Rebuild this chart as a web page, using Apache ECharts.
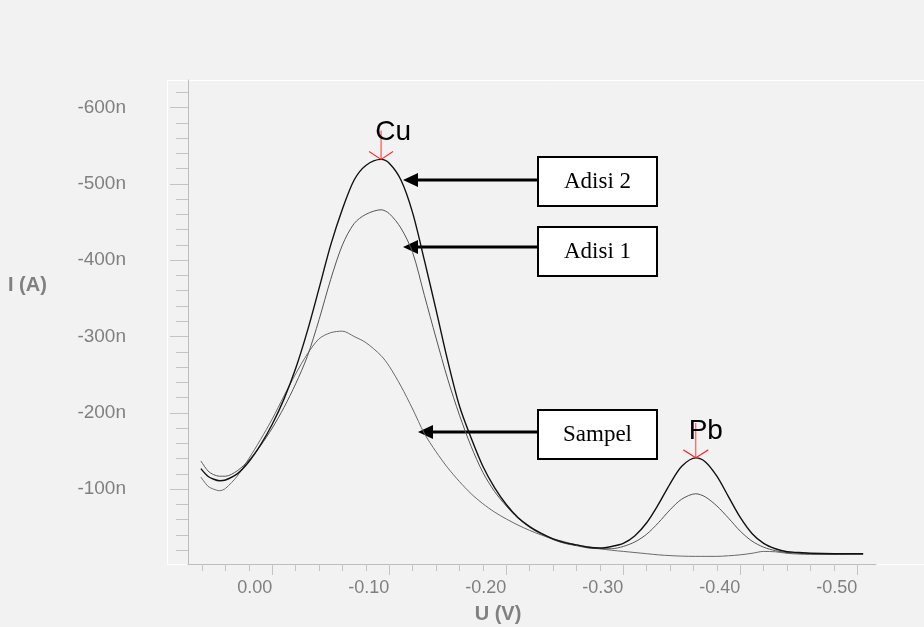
<!DOCTYPE html>
<html>
<head>
    <meta charset="utf-8" />
    <title>Voltammogram Cu Pb</title>
    <style>
        html, body { margin: 0; padding: 0; background: #f2f2f2; }
        #main { width: 924px; height: 627px; }
    </style>
    <script src="https://cdn.jsdelivr.net/npm/echarts@6/dist/echarts.min.js"></script>
</head>
<body>
<div id="main"></div>
<script type="text/javascript">
    // potential (V), shared by all three scans
    const voltage = [0.061, 0.055, 0.05, 0.045, 0.04, 0.03, 0.02, 0.01, 0.00,
        -0.01, -0.02, -0.03, -0.04, -0.05, -0.06, -0.07, -0.08, -0.093,
        -0.10, -0.11, -0.12, -0.13, -0.14, -0.15, -0.16, -0.17, -0.18, -0.19,
        -0.20, -0.21, -0.22, -0.23, -0.24, -0.25, -0.26, -0.27, -0.28, -0.29,
        -0.30, -0.31, -0.32, -0.33, -0.34, -0.35, -0.362, -0.37, -0.38, -0.39,
        -0.40, -0.41, -0.42, -0.43, -0.44, -0.45, -0.46, -0.48, -0.50, -0.505];

    // current in nA
    const sampel = [-116, -104, -100, -98, -101, -117, -140, -165, -192,
        -222, -251, -277, -297, -305, -307, -300, -292, -275,
        -261, -235, -205, -173, -149, -128, -110, -94, -81, -70,
        -61, -53, -46, -40, -35, -31, -27, -24.5, -22, -20,
        -18.5, -17, -15.5, -14, -13, -12.3, -12, -12, -12, -12.8,
        -14, -16, -18.5, -18, -16, -15, -14.5, -14.5, -15, -15];

    const adisi1 = [-137, -124, -119, -117, -117, -124, -138, -157, -180,
        -207, -238, -274, -322, -375, -420, -448, -460, -466,
        -461, -442, -410, -354, -298, -244, -197, -156, -122, -97,
        -78, -62, -50, -41, -34, -29, -26, -23, -22, -22,
        -25, -31, -41, -56, -73, -87, -94, -90, -78, -62,
        -45, -32, -24, -19.5, -17, -16, -15.5, -15, -15, -15];

    const adisi2 = [-127, -117, -113, -111, -112, -120, -136, -158, -185,
        -218, -258, -307, -363, -420, -467, -505, -524, -532,
        -527, -505, -462, -400, -335, -268, -209, -167, -130, -102,
        -80, -63, -51, -42, -35, -30, -27, -24, -23, -25,
        -29, -39, -56, -80, -107, -130, -141, -136, -117, -90,
        -63, -42, -29, -22, -18, -17, -16, -15.5, -15.5, -15.5];

    const xLabels = [0, -0.1, -0.2, -0.3, -0.4, -0.5];
    const xMinor = [0.06, 0.04, 0.02, -0.02, -0.04, -0.06, -0.08, -0.12, -0.14, -0.16, -0.18,
        -0.22, -0.24, -0.26, -0.28, -0.32, -0.34, -0.36, -0.38, -0.42, -0.44, -0.46, -0.48];
    const yLabels = [-600, -500, -400, -300, -200, -100];
    const yMinor = [-620, -580, -560, -540, -520, -480, -460, -440, -420, -380, -360, -340, -320,
        -280, -260, -240, -220, -180, -160, -140, -120, -80, -60, -40, -20];

    // peak markers
    const peaks = [
        { name: 'Cu', v: -0.093, i: -532 },
        { name: 'Pb', v: -0.362, i: -141 }
    ];

    const toPairs = (ys) => voltage.map((v, k) => [v, ys[k]]);

    const gray = '#808080';
    const font = "'Liberation Sans', Arial, sans-serif";
    const xRange = { min: -0.516, max: 0.072 };
    const yRange = { min: -636, max: -2 };

    var myChart = echarts.init(document.getElementById('main'));

    var option = {
        backgroundColor: '#f2f2f2',
        animation: false,
        grid: { left: 188, right: 48, top: 80, bottom: 63 },
        xAxis: [
            {
                type: 'value', inverse: true, min: xRange.min, max: xRange.max,
                position: 'bottom',
                axisLine: { onZero: false, lineStyle: { color: '#bdbdbd', width: 1 } },
                axisTick: { customValues: xLabels, length: 11, lineStyle: { color: '#c4c4c4' } },
                axisLabel: {
                    customValues: xLabels, align: 'right', margin: 15,
                    color: gray, fontSize: 18, fontFamily: font,
                    formatter: (v) => v.toFixed(2)
                },
                splitLine: { show: false }
            },
            {
                type: 'value', inverse: true, min: xRange.min, max: xRange.max,
                position: 'bottom',
                axisLine: { show: false, onZero: false },
                axisTick: { customValues: xMinor, length: 7, lineStyle: { color: '#c4c4c4' } },
                axisLabel: { show: false },
                splitLine: { show: false }
            }
        ],
        yAxis: [
            {
                type: 'value', inverse: true, min: yRange.min, max: yRange.max,
                position: 'left',
                axisLine: { show: true, onZero: false, lineStyle: { color: '#bdbdbd', width: 1 } },
                axisTick: { show: true, customValues: yLabels, length: 18, lineStyle: { color: '#c4c4c4' } },
                axisLabel: {
                    customValues: yLabels, margin: 62, padding: [0, 0, 6, 0],
                    color: gray, fontSize: 19, fontFamily: font,
                    formatter: (v) => v + 'n'
                },
                splitLine: { show: false }
            },
            {
                type: 'value', inverse: true, min: yRange.min, max: yRange.max,
                position: 'left',
                axisLine: { show: false, onZero: false },
                axisTick: { show: true, customValues: yMinor, length: 12, lineStyle: { color: '#c4c4c4' } },
                axisLabel: { show: false },
                splitLine: { show: false }
            }
        ],
        series: [
            {
                name: 'Sampel', type: 'line', data: toPairs(sampel),
                showSymbol: false, smooth: 0.3,
                lineStyle: { color: '#6a6a6a', width: 1 }
            },
            {
                name: 'Adisi 1', type: 'line', data: toPairs(adisi1),
                showSymbol: false, smooth: 0.3,
                lineStyle: { color: '#555555', width: 1 }
            },
            {
                name: 'Adisi 2', type: 'line', data: toPairs(adisi2),
                showSymbol: false, smooth: 0.3,
                lineStyle: { color: '#111111', width: 1.4 },
                markPoint: {
                    silent: true,
                    itemStyle: { color: 'none', borderColor: '#ff2020', borderWidth: 1 },
                    label: {
                        show: true, position: 'top', color: '#000',
                        fontSize: 28, fontFamily: font
                    },
                    data: [
                        {
                            name: peaks[0].name, coord: [peaks[0].v, peaks[0].i],
                            symbol: 'path://M12,0L12,29M0,21L12,29L24,21',
                            symbolSize: [24, 29], symbolOffset: [0, '-50%'],
                            label: { formatter: peaks[0].name, distance: -19, offset: [12, 0] }
                        },
                        {
                            name: peaks[1].name, coord: [peaks[1].v, peaks[1].i],
                            symbol: 'path://M12,0L12,35M0,27L12,35L24,27',
                            symbolSize: [25, 35], symbolOffset: [0, '-50%'],
                            label: { formatter: peaks[1].name, distance: -25, offset: [10, 0] }
                        }
                    ]
                }
            }
        ],
        graphic: [
            // light frame around plot area
            {
                type: 'polyline', silent: true,
                shape: { points: [[924, 80.5], [167.5, 80.5], [167.5, 564.5], [188, 564.5]] },
                style: { stroke: '#ffffff', lineWidth: 1, fill: null }
            },
            {
                type: 'line', silent: true,
                shape: { x1: 876, y1: 564.5, x2: 924, y2: 564.5 },
                style: { stroke: '#ffffff', lineWidth: 1 }
            },
            // axis names
            {
                type: 'text', x: 8, y: 285,
                style: { text: 'I (A)', fill: gray, font: "bold 20px " + font, textVerticalAlign: 'middle' }
            },
            {
                type: 'text', x: 498, y: 614,
                style: { text: 'U (V)', fill: gray, font: "bold 20px " + font, textAlign: 'center', textVerticalAlign: 'middle' }
            }
        ]
    };

    // annotation boxes with arrows
    const notes = [
        { text: 'Adisi 2', boxY: 157, arrowY: 180, tipX: 403 },
        { text: 'Adisi 1', boxY: 227, arrowY: 247, tipX: 403 },
        { text: 'Sampel', boxY: 410, arrowY: 432, tipX: 418 }
    ];
    notes.forEach(function (n) {
        option.graphic.push({
            type: 'rect', silent: true,
            shape: { x: 538, y: n.boxY, width: 119, height: 49 },
            style: { fill: '#ffffff', stroke: '#000000', lineWidth: 2 }
        });
        option.graphic.push({
            type: 'text', silent: true, x: 597.5, y: n.boxY + 25,
            style: {
                text: n.text, fill: '#000', textAlign: 'center', textVerticalAlign: 'middle',
                font: "23px 'Liberation Serif', 'Times New Roman', serif"
            }
        });
        option.graphic.push({
            type: 'line', silent: true,
            shape: { x1: 538, y1: n.arrowY, x2: n.tipX + 12, y2: n.arrowY },
            style: { stroke: '#000', lineWidth: 3 }
        });
        option.graphic.push({
            type: 'polygon', silent: true,
            shape: { points: [[n.tipX, n.arrowY], [n.tipX + 15, n.arrowY - 7], [n.tipX + 15, n.arrowY + 7]] },
            style: { fill: '#000' }
        });
    });

    myChart.setOption(option);
</script>
</body>
</html>
